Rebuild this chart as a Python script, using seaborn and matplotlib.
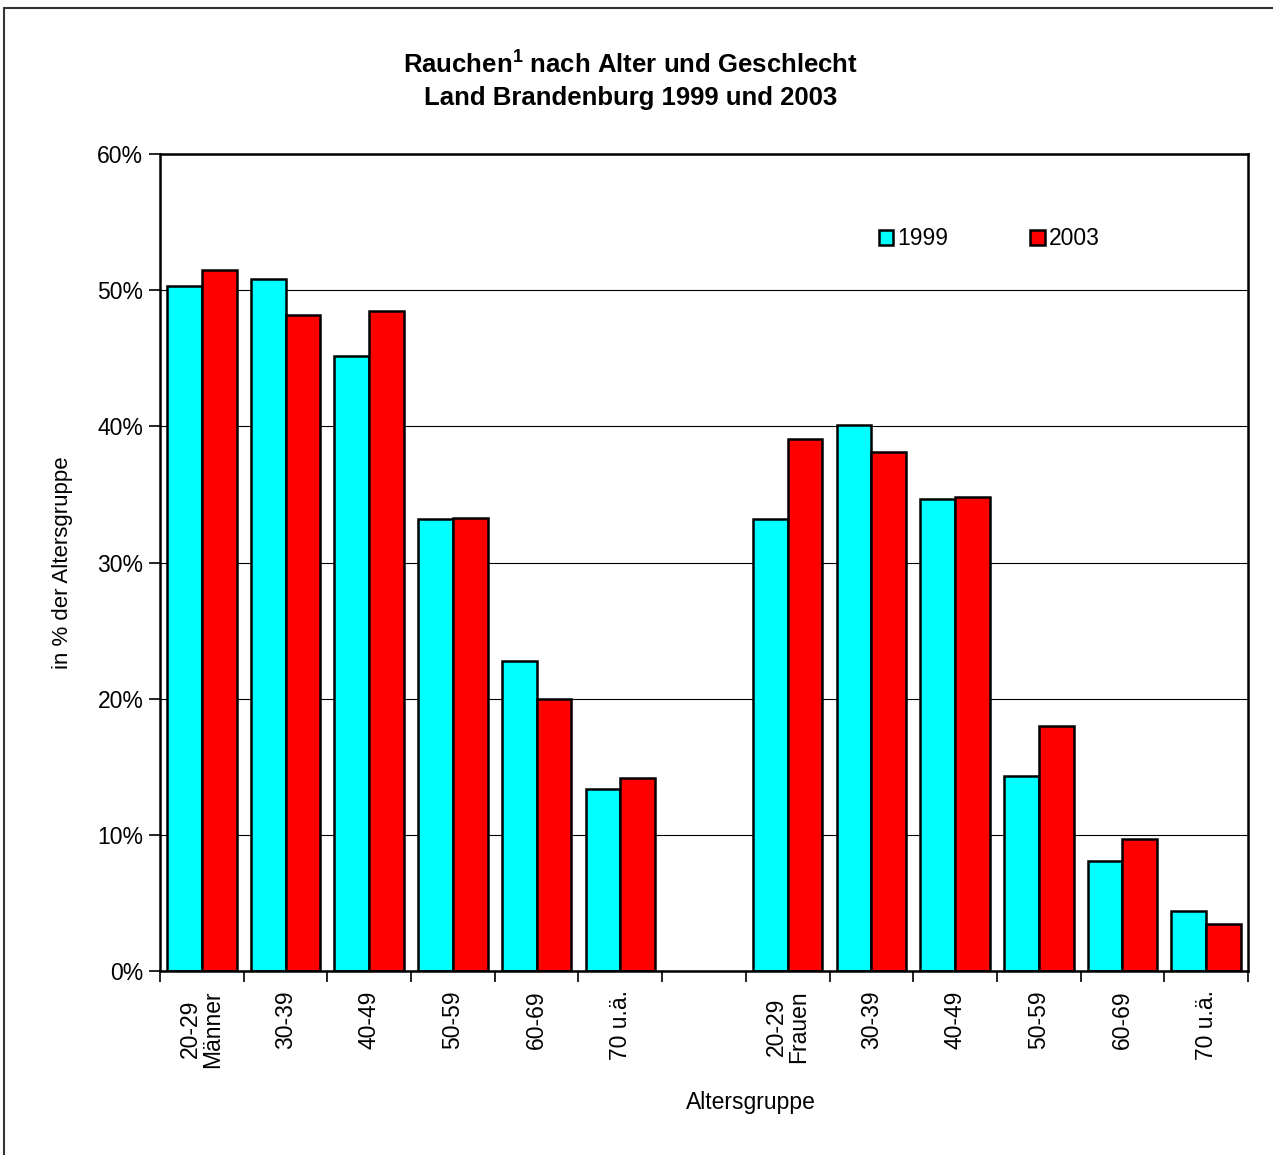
import matplotlib
matplotlib.use("Agg")
import matplotlib.pyplot as plt
import matplotlib.ticker as mticker
import numpy as np
import pandas as pd
import seaborn as sns

sns.set_theme(style="white")
plt.rcParams["font.family"] = ["Liberation Sans", "DejaVu Sans"]
plt.rcParams["mathtext.fontset"] = "custom"
plt.rcParams["mathtext.rm"] = "Liberation Sans"
plt.rcParams["mathtext.bf"] = "Liberation Sans:bold"
for key in ["text.color", "axes.labelcolor", "xtick.color", "ytick.color"]:
    plt.rcParams[key] = "black"

# slot keys (unique), gap slot between men and women
slots = ["M20", "M30", "M40", "M50", "M60", "M70", "gap",
         "F20", "F30", "F40", "F50", "F60", "F70"]
tick_labels = ["20-29\nMänner", "30-39", "40-49", "50-59", "60-69", "70 u.ä.", "",
               "20-29\nFrauen", "30-39", "40-49", "50-59", "60-69", "70 u.ä."]
men_keys = slots[:6]
women_keys = slots[7:]

# values in percent of age group
men_1999 = [50.3, 50.8, 45.2, 33.2, 22.8, 13.4]
men_2003 = [51.5, 48.2, 48.5, 33.3, 20.0, 14.2]
women_1999 = [33.2, 40.1, 34.7, 14.3, 8.1, 4.4]
women_2003 = [39.1, 38.1, 34.8, 18.0, 9.7, 3.45]

years = ["1999", "2003"]
colors = {"1999": "#00FFFF", "2003": "#FF0000"}

rows = []
for keys, v99, v03 in [(men_keys, men_1999, men_2003), (women_keys, women_1999, women_2003)]:
    for k, a, b in zip(keys, v99, v03):
        rows.append({"slot": k, "year": "1999", "value": a})
        rows.append({"slot": k, "year": "2003", "value": b})
df = pd.DataFrame(rows)

fig = plt.figure(figsize=(12.73, 11.55), dpi=100)
ax = fig.add_axes([160 / 1273, 1 - 971 / 1155, (1248 - 160) / 1273, (971 - 154) / 1155])

sns.barplot(data=df, x="slot", y="value", hue="year", order=slots, hue_order=years,
            palette=colors, width=0.83, edgecolor="black", linewidth=1.8,
            saturation=1, ax=ax)

ax.set_ylim(0, 60)
ax.set_xlim(-0.5, len(slots) - 0.5)
ax.yaxis.set_major_locator(mticker.MultipleLocator(10))
ax.yaxis.set_major_formatter(mticker.FuncFormatter(lambda v, p: f"{v:.0f}%"))
ax.grid(axis="y", color="black", linewidth=0.8)
ax.set_axisbelow(True)

# ticks at slot boundaries, labels at slot centers
ax.set_xticks(np.arange(-0.5, len(slots), 1.0))
ax.set_xticklabels([])
ax.set_xticks(np.arange(len(slots)), minor=True)
ax.set_xticklabels(tick_labels, minor=True, rotation=90, va="top", ha="center",
                   fontsize=16.5, linespacing=0.95)
ax.tick_params(axis="x", which="major", direction="out", length=8, width=1.2,
               color="black", bottom=True)
ax.tick_params(axis="x", which="minor", length=0, pad=14)
ax.tick_params(axis="y", direction="out", length=8, width=1.2, color="black",
               left=True, labelsize=16.5, pad=4)

for s in ax.spines.values():
    s.set_color("black")
    s.set_linewidth(1.8)

ax.set_xlabel("")
ax.set_ylabel("in % der Altersgruppe", fontsize=16, labelpad=-2)
ax.yaxis.set_label_coords(-(160 - 73) / 1088, 0.5)
fig.text(751 / 1273, 1 - 1103 / 1155, "Altersgruppe", ha="center", va="center", fontsize=16.5)

leg = ax.legend(loc="center left", bbox_to_anchor=(0.652, 0.896), ncol=2, frameon=False,
                handlelength=0.65, handleheight=0.65, handletextpad=0.15,
                columnspacing=3.6, fontsize=16.5, borderaxespad=0)

fig.text(0.495, 1 - 64 / 1155, r"Rauchen$^{\mathbf{1}}$ nach Alter und Geschlecht",
         ha="center", va="center", fontsize=18.5, fontweight="bold")
fig.text(0.495, 1 - 98 / 1155, "Land Brandenburg 1999 und 2003",
         ha="center", va="center", fontsize=18.5, fontweight="bold")

# outer frame (top and left edges visible in the source)
fig.add_artist(plt.Line2D([4 / 1273, 1], [1 - 8 / 1155, 1 - 8 / 1155], color="#333333", linewidth=1.5))
fig.add_artist(plt.Line2D([4 / 1273, 4 / 1273], [0, 1 - 8 / 1155], color="#333333", linewidth=1.5))

fig.savefig("out.png", dpi=100, facecolor="white")
